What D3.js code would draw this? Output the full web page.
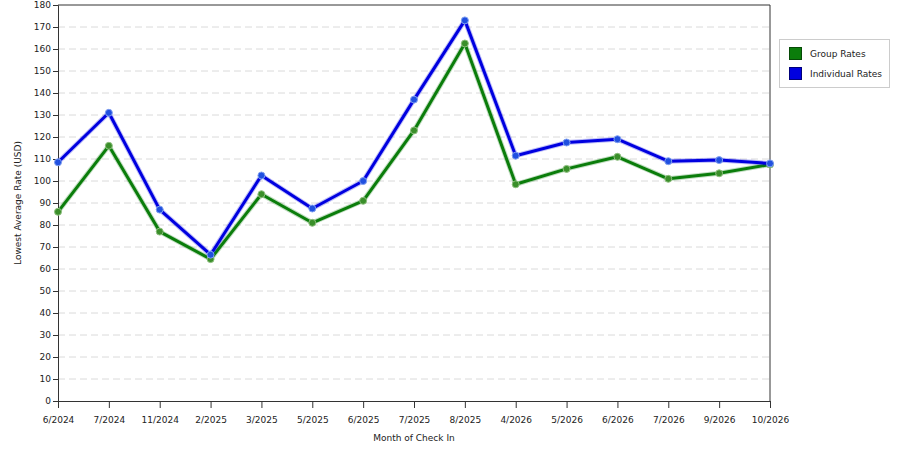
<!DOCTYPE html>
<html lang="en">
<head>
<meta charset="UTF-8">
<title>Lowest Average Rate by Month</title>
<script src="https://d3js.org/d3.v7.min.js"></script>
<style>
    body { margin: 0; padding: 0; background: #fff; overflow: hidden; }
    text { font-family: "DejaVu Sans", Verdana, sans-serif; fill: #222; }
</style>
</head>
<body>
<div id="chart"></div>
<script>
    // chart data
    const months = ["6/2024", "7/2024", "11/2024", "2/2025", "3/2025", "5/2025", "6/2025", "7/2025",
                    "8/2025", "4/2026", "5/2026", "6/2026", "7/2026", "9/2026", "10/2026"];
    const groupRates = [86, 116, 77, 64.5, 94, 81, 91, 123, 162.5, 98.5, 105.5, 111, 101, 103.5, 107.5];
    const individualRates = [108.5, 131, 87, 66.5, 102.5, 87.5, 100, 137, 173, 111.5, 117.5, 119, 109, 109.5, 108];
    const yTicks = d3.range(0, 181, 10);
    const seriesNames = ["Group Rates", "Individual Rates"];
    const seriesColors = ["#0b7d0b", "#0000e0"];

    const width = 900, height = 450;
    const margin = {top: 5, right: 130, bottom: 49, left: 58};
    const innerW = width - margin.left - margin.right;
    const innerH = height - margin.top - margin.bottom;

    const svg = d3.select("#chart").append("svg")
        .attr("width", width)
        .attr("height", height);

    const g = svg.append("g")
        .attr("transform", `translate(${margin.left},${margin.top})`);

    const x = d3.scalePoint().domain(months).range([0, innerW]);
    const y = d3.scaleLinear().domain([0, 180]).range([innerH, 0]);

    // dashed gridlines
    g.append("g").selectAll("line")
        .data(yTicks.filter(d => d > 0 && d < 180))
        .enter().append("line")
        .attr("x1", 0).attr("x2", innerW)
        .attr("y1", d => y(d)).attr("y2", d => y(d))
        .attr("stroke", "#dadada")
        .attr("stroke-dasharray", "7,4");

    // frame top + right
    g.append("path")
        .attr("d", `M0,0H${innerW}V${innerH}`)
        .attr("fill", "none")
        .attr("stroke", "#333");

    // axes
    const xAxis = g.append("g")
        .attr("transform", `translate(0,${innerH})`)
        .call(d3.axisBottom(x).tickSize(7).tickPadding(9));
    const yAxis = g.append("g")
        .call(d3.axisLeft(y).tickValues(yTicks).tickSize(5).tickPadding(2));

    [xAxis, yAxis].forEach(a => {
        a.selectAll("path, line").attr("stroke", "#333");
        a.selectAll("text").attr("font-size", 9).attr("fill", "#222")
            .style("font-family", "'DejaVu Sans', Verdana, sans-serif");
    });

    // axis titles
    svg.append("text")
        .attr("x", margin.left + innerW / 2)
        .attr("y", 441)
        .attr("text-anchor", "middle")
        .attr("font-size", 9)
        .text("Month of Check In");

    svg.append("text")
        .attr("transform", `translate(21,${margin.top + innerH / 2}) rotate(-90)`)
        .attr("text-anchor", "middle")
        .attr("font-size", 9)
        .text("Lowest Average Rate (USD)");

    // series lines + markers
    const line = d3.line()
        .x((d, i) => x(months[i]))
        .y(d => y(d));

    [groupRates, individualRates].forEach((vals, k) => {
        const c = seriesColors[k];
        g.append("path")
            .datum(vals)
            .attr("d", line)
            .attr("fill", "none")
            .attr("stroke", c)
            .attr("stroke-opacity", 0.25)
            .attr("stroke-width", 5)
            .attr("stroke-linejoin", "round");
        g.append("path")
            .datum(vals)
            .attr("d", line)
            .attr("fill", "none")
            .attr("stroke", c)
            .attr("stroke-width", 3)
            .attr("stroke-linejoin", "round");
        g.append("g").selectAll("circle")
            .data(vals)
            .enter().append("circle")
            .attr("cx", (d, i) => x(months[i]))
            .attr("cy", d => y(d))
            .attr("r", 3.5)
            .attr("fill", k === 0 ? "#3a8f2a" : "#2050e0")
            .attr("stroke", k === 0 ? "#8fc080" : "#80a0f0")
            .attr("stroke-width", 1);
    });

    // legend
    const legend = svg.append("g").attr("transform", "translate(779,39)");
    legend.append("rect")
        .attr("x", 0.5).attr("y", 0.5)
        .attr("width", 110).attr("height", 48)
        .attr("fill", "#fff")
        .attr("stroke", "#ccc");
    seriesNames.forEach((name, i) => {
        legend.append("rect")
            .attr("x", 10.5).attr("y", 8.5 + i * 20)
            .attr("width", 12).attr("height", 12)
            .attr("fill", seriesColors[i])
            .attr("stroke", i === 0 ? "#064a06" : "#00007a");
        legend.append("text")
            .attr("x", 31).attr("y", 18 + i * 20)
            .attr("font-size", 9)
            .text(name);
    });
</script>
</body>
</html>
